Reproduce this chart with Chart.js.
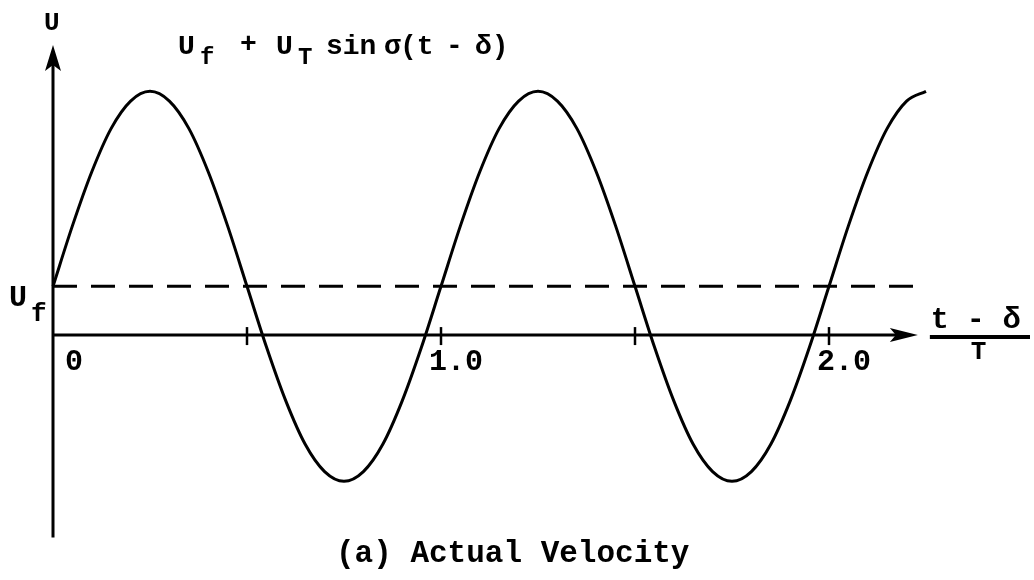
<!DOCTYPE html>
<html>
<head>
<meta charset="utf-8">
<script src="https://cdn.jsdelivr.net/npm/chart.js@4.4.1/dist/chart.umd.min.js"></script>
<style>
  html, body { margin: 0; padding: 0; background: #fff; }
  canvas { display: block; }
</style>
</head>
<body>
<canvas id="velocityChart" width="1034" height="580"></canvas>
<script>
// (t - delta) / T, sampled every 0.05
const phase = [
  0, 0.05, 0.1, 0.15, 0.2, 0.25, 0.3, 0.35, 0.4, 0.45,
  0.5, 0.55, 0.6, 0.65, 0.7, 0.75, 0.8, 0.85, 0.9, 0.95,
  1.0, 1.05, 1.1, 1.15, 1.2, 1.25, 1.3, 1.35, 1.4, 1.45,
  1.5, 1.55, 1.6, 1.65, 1.7, 1.75, 1.8, 1.85, 1.9, 1.95,
  2.0, 2.05, 2.1, 2.15, 2.2, 2.25
];
// U, in units of U_f
const velocity = [
  1, 2.24, 3.35, 4.24, 4.8, 5, 4.8, 4.24, 3.35, 2.24,
  1, -0.24, -1.35, -2.24, -2.8, -3, -2.8, -2.24, -1.35, -0.24,
  1, 2.24, 3.35, 4.24, 4.8, 5, 4.8, 4.24, 3.35, 2.24,
  1, -0.24, -1.35, -2.24, -2.8, -3, -2.8, -2.24, -1.35, -0.24,
  1, 2.24, 3.35, 4.24, 4.8, 5
];
const meanLevel = 1;          // U_f
const axisEnd = 2.229;        // tip of the t-axis arrow
const tickMarks = [0.5, 1.0, 1.5, 2.0];
const tickLabels = ["0", "1.0", "2.0"];
const tickLabelAt = [0, 1, 2];

const MONO = "'Liberation Mono', 'DejaVu Sans Mono', monospace";

function text(ctx, str, x, y, size) {
  ctx.font = "bold " + size + "px " + MONO;
  ctx.fillText(str, x, y);
}

const axesPlugin = {
  id: "axes",
  afterDatasetsDraw(chart) {
    const ctx = chart.ctx;
    const xs = chart.scales.x;
    const ys = chart.scales.y;
    const ax = xs.getPixelForValue(0);
    const ay = ys.getPixelForValue(0);
    const top = chart.chartArea.top;
    const bottom = chart.chartArea.bottom;
    const tipX = xs.getPixelForValue(axisEnd);

    ctx.save();
    ctx.strokeStyle = "#000";
    ctx.fillStyle = "#000";
    ctx.lineWidth = 3;
    ctx.lineCap = "butt";

    // U axis
    ctx.beginPath();
    ctx.moveTo(ax, bottom);
    ctx.lineTo(ax, top + 18);
    ctx.stroke();
    ctx.beginPath();
    ctx.moveTo(ax, top);
    ctx.lineTo(ax - 8, top + 26);
    ctx.lineTo(ax, top + 20);
    ctx.lineTo(ax + 8, top + 26);
    ctx.closePath();
    ctx.fill();

    // t axis
    ctx.beginPath();
    ctx.moveTo(ax, ay);
    ctx.lineTo(tipX - 20, ay);
    ctx.stroke();
    ctx.beginPath();
    ctx.moveTo(tipX, ay);
    ctx.lineTo(tipX - 28, ay - 7);
    ctx.lineTo(tipX - 22, ay);
    ctx.lineTo(tipX - 28, ay + 7);
    ctx.closePath();
    ctx.fill();

    // tick marks crossing the t axis
    ctx.lineWidth = 2.5;
    tickMarks.forEach((v) => {
      const px = xs.getPixelForValue(v);
      ctx.beginPath();
      ctx.moveTo(px, ay - 8);
      ctx.lineTo(px, ay + 10);
      ctx.stroke();
    });

    ctx.textBaseline = "alphabetic";
    ctx.textAlign = "left";

    // tick labels
    tickLabels.forEach((label, i) => {
      const px = xs.getPixelForValue(tickLabelAt[i]);
      const dx = tickLabelAt[i] === 0 ? 12 : -12;
      text(ctx, label, px + dx, ay + 35, 30);
    });

    // axis names
    text(ctx, "U", ax - 9, 30, 26);
    const uf = ys.getPixelForValue(meanLevel);
    text(ctx, "U", 9, uf + 20, 30);
    text(ctx, "f", 31, uf + 35, 26);

    // (t - delta) / T
    text(ctx, "t - \u03b4", tipX + 13, ay - 7, 30);
    ctx.lineWidth = 4;
    ctx.beginPath();
    ctx.moveTo(tipX + 12, ay + 2);
    ctx.lineTo(1030, ay + 2);
    ctx.stroke();
    text(ctx, "T", tipX + 53, ay + 24, 26);

    // formula
    text(ctx, "U", 178, 54, 28);
    text(ctx, "f", 200, 64, 24);
    text(ctx, "+", 240, 52, 28);
    text(ctx, "U", 276, 54, 28);
    text(ctx, "T", 298, 64, 24);
    text(ctx, "sin", 326, 54, 28);
    text(ctx, "\u03c3", 384, 54, 28);
    text(ctx, "(t", 400, 54, 28);
    text(ctx, "-", 446, 54, 28);
    text(ctx, "\u03b4)", 475, 54, 28);

    // caption
    text(ctx, "(a) Actual Velocity", 336, 562, 31);
    ctx.restore();
  }
};

new Chart(document.getElementById("velocityChart"), {
  type: "line",
  data: {
    datasets: [
      {
        label: "U",
        data: phase.map((p, i) => ({ x: p, y: velocity[i] })),
        borderColor: "#000",
        borderWidth: 3,
        pointRadius: 0,
        cubicInterpolationMode: "monotone",
        clip: false,
      },
      {
        label: "U_f",
        data: [
          { x: 0, y: meanLevel },
          { x: axisEnd, y: meanLevel },
        ],
        borderColor: "#000",
        borderWidth: 3,
        borderDash: [24, 14],
        pointRadius: 0,
        clip: false,
      },
    ],
  },
  options: {
    responsive: false,
    animation: false,
    devicePixelRatio: 1,
    layout: {
      padding: { left: 53, right: 108, top: 45, bottom: 42.6 },
    },
    scales: {
      x: { type: "linear", min: 0, max: 2.25, display: false },
      y: { type: "linear", min: -4.15, max: 5.95, display: false },
    },
    plugins: {
      legend: { display: false },
      tooltip: { enabled: false },
    },
  },
  plugins: [axesPlugin],
});
</script>
</body>
</html>
